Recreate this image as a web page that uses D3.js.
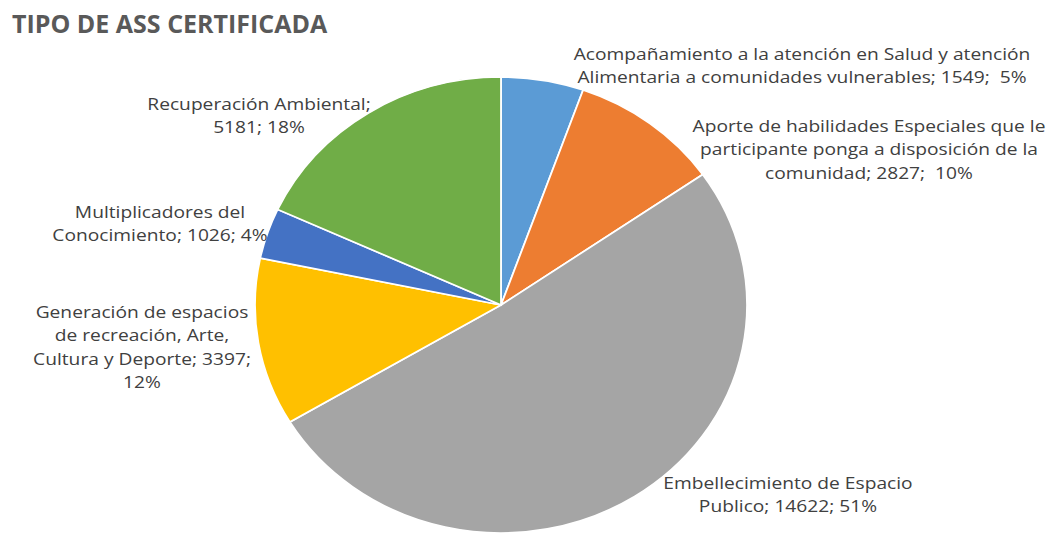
<!DOCTYPE html>
<html>
<head>
<meta charset="utf-8">
<script src="https://cdn.jsdelivr.net/npm/d3@7"></script>
<style>
  body { margin: 0; background: #fff; }
  text { font-family: "Open Sans", sans-serif; white-space: pre; }
</style>
</head>
<body>
<div id="chart"></div>
<script>
// categories and values, in clockwise order from 12 o'clock
const categories = [
  "Acompañamiento a la atención en Salud y atención Alimentaria a comunidades vulnerables",
  "Aporte de habilidades Especiales que le participante ponga a disposición de la comunidad",
  "Embellecimiento de Espacio Publico",
  "Generación de espacios de recreación, Arte, Cultura y Deporte",
  "Multiplicadores del Conocimiento",
  "Recuperación Ambiental"
];
const values = [1549, 2827, 14622, 3397, 1026, 5181];
const percents = ["5%", "10%", "51%", "12%", "4%", "18%"];
const colors = ["#5B9BD5", "#ED7D31", "#A5A5A5", "#FFC000", "#4472C4", "#70AD47"];

// label lines as they wrap in the picture
const labelLines = [
  ["Acompañamiento a la atención en Salud y atención", "Alimentaria a comunidades vulnerables; 1549;  5%"],
  ["Aporte de habilidades Especiales que le", "participante ponga a disposición de la", "comunidad; 2827;  10%"],
  ["Embellecimiento de Espacio", "Publico; 14622; 51%"],
  ["Generación de espacios", "de recreación, Arte,", "Cultura y Deporte; 3397;", "12%"],
  ["Multiplicadores del", "Conocimiento; 1026; 4%"],
  ["Recuperación Ambiental;", "5181; 18%"]
];
// label anchor (centre x, first baseline y)
const labelPos = [[802, 60], [869, 132], [788, 489], [142, 318], [160, 218], [259, 110]];

const width = 1050, height = 533;
const cx = 501, cy = 305, rx = 246, ry = 228;
const stretch = 1.13; // the picture is stretched sideways

const svg = d3.select("#chart").append("svg")
  .attr("width", width)
  .attr("height", height);

svg.append("text")
  .attr("x", 12)
  .attr("y", 33)
  .attr("fill", "#595959")
  .style("font-size", "25px")
  .style("font-weight", "bold")
  .text("TIPO DE ASS CERTIFICADA");

const pie = d3.pie().sort(null).value(d => d)(values);
const arc = d3.arc().innerRadius(0).outerRadius(rx);

const g = svg.append("g")
  .attr("transform", `translate(${cx},${cy}) scale(1,${ry / rx})`);

g.selectAll("path")
  .data(pie)
  .join("path")
  .attr("d", arc)
  .attr("fill", (d, i) => colors[i])
  .attr("stroke", "#fff")
  .attr("stroke-width", 1.8);

const labels = svg.append("g");
labelLines.forEach((lines, i) => {
  const t = labels.append("text")
    .attr("transform", `translate(${labelPos[i][0]},${labelPos[i][1]}) scale(${stretch},1)`)
    .attr("text-anchor", "middle")
    .attr("fill", "#404040")
    .style("font-size", "17px");
  lines.forEach((line, j) => {
    t.append("tspan")
      .attr("x", 0)
      .attr("y", j * 23.5)
      .text(line);
  });
});
</script>
</body>
</html>
